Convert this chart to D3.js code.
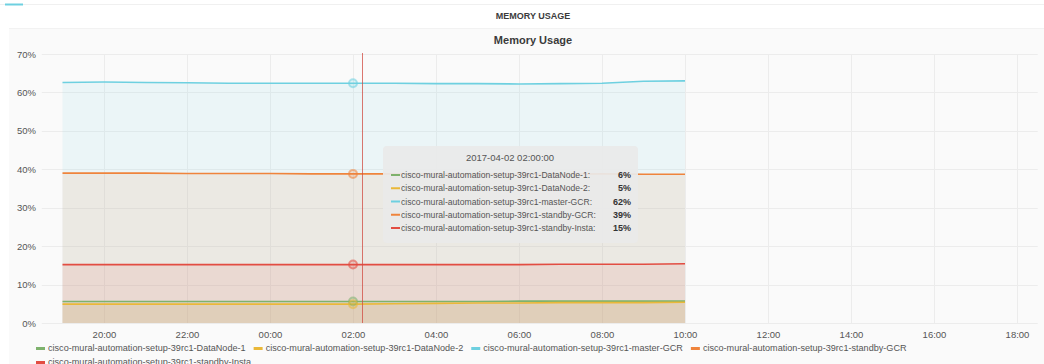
<!DOCTYPE html>
<html>
<head>
<meta charset="utf-8">
<script src="https://cdn.jsdelivr.net/npm/d3@7"></script>
<style>
  html, body { margin: 0; padding: 0; background: #ffffff; }
  svg { display: block; font-family: "Liberation Sans", Helvetica, Arial, sans-serif; }
</style>
</head>
<body>
<svg id="chart" width="1044" height="364"></svg>
<script>
// Hourly samples, 2017-04-01 19:00 .. 2017-04-02 10:00
const hours = ["2017-04-01 19:00","2017-04-01 20:00","2017-04-01 21:00","2017-04-01 22:00","2017-04-01 23:00",
  "2017-04-02 00:00","2017-04-02 01:00","2017-04-02 02:00","2017-04-02 03:00","2017-04-02 04:00",
  "2017-04-02 05:00","2017-04-02 06:00","2017-04-02 07:00","2017-04-02 08:00","2017-04-02 09:00","2017-04-02 10:00"];

const seriesNames = [
  "cisco-mural-automation-setup-39rc1-DataNode-1",
  "cisco-mural-automation-setup-39rc1-DataNode-2",
  "cisco-mural-automation-setup-39rc1-master-GCR",
  "cisco-mural-automation-setup-39rc1-standby-GCR",
  "cisco-mural-automation-setup-39rc1-standby-Insta"
];
const seriesColors = ["#7EB26D", "#EAB839", "#6ED0E0", "#EF843C", "#E24D42"];

const dataNode1   = [5.6,5.6,5.6,5.6,5.6,5.6,5.6,5.6,5.6,5.6,5.6,5.7,5.7,5.7,5.7,5.7];
const dataNode2   = [4.9,4.9,4.9,4.9,4.9,4.9,4.9,4.9,5.0,5.1,5.2,5.2,5.3,5.3,5.3,5.4];
const masterGCR   = [62.6,62.7,62.6,62.5,62.4,62.4,62.4,62.4,62.4,62.3,62.3,62.2,62.3,62.4,62.9,63.0];
const standbyGCR  = [39.0,39.0,39.0,38.9,38.9,38.9,38.8,38.8,38.8,38.8,38.7,38.7,38.7,38.8,38.7,38.7];
const standbyInsta= [15.2,15.2,15.2,15.2,15.2,15.2,15.2,15.2,15.2,15.2,15.2,15.2,15.3,15.3,15.3,15.4];
const seriesValues = [dataNode1, dataNode2, masterGCR, standbyGCR, standbyInsta];

const yTicks = [0, 10, 20, 30, 40, 50, 60, 70];
const xRange = ["2017-04-01 18:30", "2017-04-02 18:30"];
const hoverTime = "2017-04-02 02:00";
const cursorTime = "2017-04-02 02:13";
const dashboardTitle = "MEMORY USAGE";
const panelTitle = "Memory Usage";
const tooltipTitle = "2017-04-02 02:00:00";

const parse = d3.timeParse("%Y-%m-%d %H:%M");
const times = hours.map(parse);

const svg = d3.select("#chart");

// row separator with collapse marker
svg.append("line").attr("x1", 0).attr("x2", 1044).attr("y1", 4.5).attr("y2", 4.5)
  .attr("stroke", "#f0f0f0");
svg.append("line").attr("x1", 5).attr("x2", 23).attr("y1", 4.5).attr("y2", 4.5)
  .attr("stroke", "#6ED0E0").attr("stroke-width", 2);

svg.append("text").attr("x", 533).attr("y", 19).attr("text-anchor", "middle")
  .attr("font-size", 9).attr("font-weight", "bold").attr("fill", "#3b3b3b").text(dashboardTitle);

// panel
svg.append("rect").attr("x", 9).attr("y", 28).attr("width", 1040).attr("height", 340).attr("fill", "#fafafa");
svg.append("line").attr("x1", 9).attr("x2", 1044).attr("y1", 28.5).attr("y2", 28.5).attr("stroke", "#f2f2f2");

svg.append("text").attr("x", 533).attr("y", 44).attr("text-anchor", "middle")
  .attr("font-size", 11).attr("font-weight", "bold").attr("fill", "#3b3b3b").text(panelTitle);

const x = d3.scaleTime().domain(xRange.map(parse)).range([41.75, 1037.75]);
const y = d3.scaleLinear().domain([0, 70]).range([323, 54]);

// grid
const g = svg.append("g");
g.selectAll(".hgrid").data(yTicks).join("line")
  .attr("x1", x.range()[0]).attr("x2", x.range()[1])
  .attr("y1", d => Math.round(y(d)) + 0.5).attr("y2", d => Math.round(y(d)) + 0.5)
  .attr("stroke", "#ececec");
const xTicks = x.ticks(d3.timeHour.every(2));
g.selectAll(".vgrid").data(xTicks).join("line")
  .attr("x1", d => Math.round(x(d)) + 0.5).attr("x2", d => Math.round(x(d)) + 0.5)
  .attr("y1", y(70)).attr("y2", y(0))
  .attr("stroke", "#ececec");

// axes labels
const yAxis = d3.axisLeft(y).tickValues(yTicks).tickFormat(d => d + "%").tickSize(0).tickPadding(0);
svg.append("g").attr("transform", "translate(36,0)").call(yAxis)
  .call(s => s.select(".domain").remove())
  .call(s => s.selectAll("text").attr("fill", "#555").attr("font-size", 9.5).attr("font-family", "Liberation Sans, Helvetica, Arial, sans-serif"));

const xAxis = d3.axisBottom(x).tickValues(xTicks).tickFormat(d3.timeFormat("%H:%M")).tickSize(0).tickPadding(0);
svg.append("g").attr("transform", "translate(0,331)").call(xAxis)
  .call(s => s.select(".domain").remove())
  .call(s => s.selectAll("text").attr("fill", "#555").attr("font-size", 9.5).attr("font-family", "Liberation Sans, Helvetica, Arial, sans-serif"));

// series
const series = seriesNames.map((name, i) => ({
  name, color: seriesColors[i],
  points: times.map((t, j) => ({ t, v: seriesValues[i][j] }))
}));

const area = d3.area().x(d => x(d.t)).y0(y(0)).y1(d => y(d.v));
const line = d3.line().x(d => x(d.t)).y(d => y(d.v));

const plot = svg.append("g");
plot.selectAll(".area").data(series).join("path")
  .attr("d", d => area(d.points)).attr("fill", d => d.color).attr("fill-opacity", 0.1);
plot.selectAll(".line").data(series).join("path")
  .attr("d", d => line(d.points)).attr("fill", "none")
  .attr("stroke", d => d.color).attr("stroke-width", 1.6);

// hover markers
const hoverT = parse(hoverTime);
const hIdx = times.findIndex(t => +t === +hoverT);
plot.selectAll(".hover").data(series).join("circle")
  .attr("cx", x(hoverT)).attr("cy", d => y(d.points[hIdx].v)).attr("r", 4)
  .attr("fill", d => d.color).attr("fill-opacity", 0.2)
  .attr("stroke", d => d.color).attr("stroke-opacity", 0.55).attr("stroke-width", 2);

// crosshair
const cx = Math.round(x(parse(cursorTime))) + 0.5;
svg.append("line").attr("x1", cx).attr("x2", cx).attr("y1", y(70) - 1).attr("y2", y(0))
  .attr("stroke", "#d04a40").attr("stroke-opacity", 0.75).attr("stroke-width", 1);

// tooltip
const tip = svg.append("g").attr("transform", "translate(383,146)");
tip.append("rect").attr("width", 255).attr("height", 97).attr("rx", 4)
  .attr("fill", "#e9e9e9").attr("fill-opacity", 0.93);
tip.append("text").attr("x", 127).attr("y", 15).attr("text-anchor", "middle")
  .attr("font-size", 9.5).attr("fill", "#555").text(tooltipTitle);
const fmt = d3.format(".0f");
const rows = tip.selectAll(".row").data(series).join("g")
  .attr("transform", (d, i) => `translate(0,${29 + i * 13.25})`);
rows.append("line").attr("x1", 8).attr("x2", 17).attr("y1", 0).attr("y2", 0)
  .attr("stroke", d => d.color).attr("stroke-width", 2);
rows.append("text").attr("x", 18).attr("y", 3.2).attr("font-size", 8.6).attr("fill", "#555")
  .text(d => d.name + ":");
rows.append("text").attr("x", 248).attr("y", 3.2).attr("text-anchor", "end")
  .attr("font-size", 9).attr("font-weight", "bold").attr("fill", "#333")
  .text(d => fmt(d.points[hIdx].v) + "%");

// legend, wrapping across rows
const legend = svg.append("g");
let lx = 36, ly = 348;
series.forEach(s => {
  const item = legend.append("g");
  const t = item.append("text").attr("x", 12).attr("y", 3.3).attr("font-size", 9.1).attr("fill", "#555").text(s.name);
  const w = 12 + t.node().getComputedTextLength();
  if (lx + w > 1037) { lx = 36; ly += 14; }
  item.attr("transform", `translate(${lx},${ly})`);
  item.append("line").attr("x1", 0).attr("x2", 9).attr("y1", 0.5).attr("y2", 0.5)
    .attr("stroke", s.color).attr("stroke-width", 3);
  lx += w + 8;
});
</script>
</body>
</html>
